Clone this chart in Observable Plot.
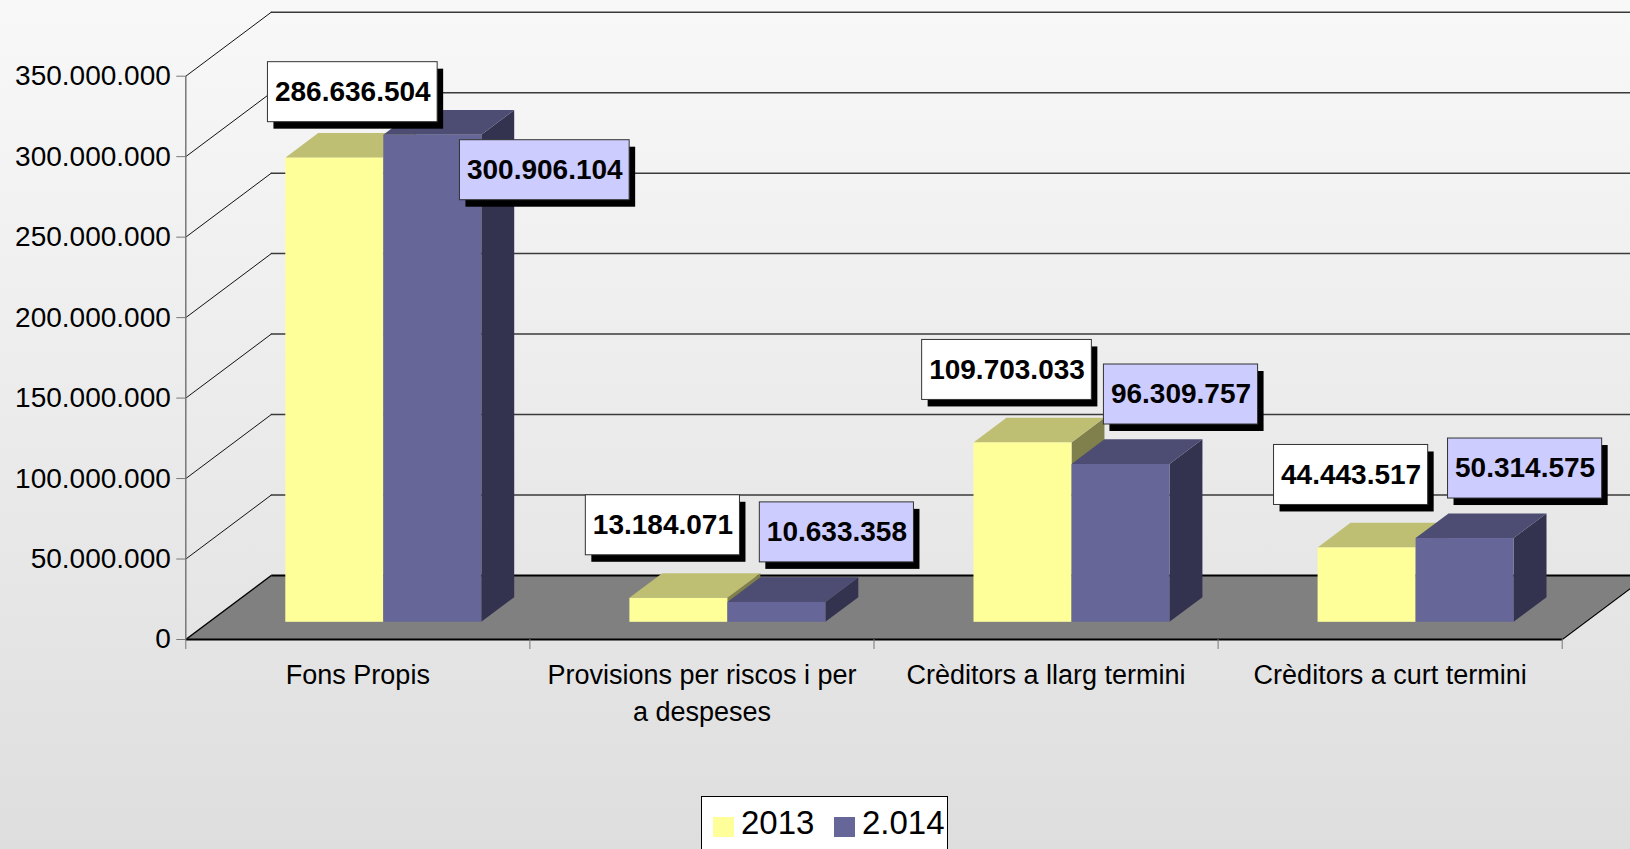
<!DOCTYPE html>
<html>
<head>
<meta charset="utf-8">
<script src="https://cdn.jsdelivr.net/npm/d3@7"></script>
<script src="https://cdn.jsdelivr.net/npm/@observablehq/plot@0.6"></script>
<style>
  html, body { margin: 0; padding: 0; width: 1630px; height: 849px; overflow: hidden;
    background: linear-gradient(#f8f8f8, #dedede); font-family: "Liberation Sans", Arial, sans-serif; }
  #chart { position: absolute; left: 0; top: 0; }
  #legend { position: absolute; left: 701px; top: 796px; width: 247px; height: 90px; background: #fff;
    border: 1.5px solid #000; box-sizing: border-box; }
  #legend .sw { position: absolute; width: 21px; height: 20px; top: 20px; }
  #legend .lb { position: absolute; font-size: 33px; line-height: 1; top: 9px; color: #000; }
</style>
</head>
<body>
<div id="chart"></div>
<div id="legend"></div>
<script>
// ---------- data ----------
const categories = ["Fons Propis", "Provisions per riscos i per a despeses", "Crèditors a llarg termini", "Crèditors a curt termini"];
const series = ["2013", "2.014"];
const values2013 = [286636504, 13184071, 109703033, 44443517];
const values2014 = [300906104, 10633358, 96309757, 50314575];
const yTicks = [0, 50000000, 100000000, 150000000, 200000000, 250000000, 300000000, 350000000];

// ---------- styles / geometry ----------
const faces = [
  {front: "#FFFF99", top: "#BFBF73", side: "#80804D", box: "#FFFFFF"},
  {front: "#666699", top: "#4D4D73", side: "#33334F", box: "#CCCCFF"}
];
const W = 1630, H = 790;
const X0 = 185.3, X4 = 1561.7, Y0 = 639, YTOP = 75.7;
const yMax = 350000000;
const pxX = (X4 - X0) / 4;          // px per category unit
const pxY = (Y0 - YTOP) / yMax;     // px per value unit
const DX = 85.5 / pxX, DY = 64 / pxY;       // depth of the 3D box (data units)
const barOff = 100 / pxX, barW = 98 / pxX;  // bar placement within a category
const baseY = 20 / pxY;                     // value zero of the bars (inside the floor depth)
const sink = 2.8 / pxY;                     // visible bar bottom sits slightly below zero
const bdx = 0.385 * DX, bdy = 0.385 * DY;   // bar depth

const fmt = d3.formatLocale({decimal: ",", thousands: ".", grouping: [3], currency: ["", "€"]}).format(",.0f");

const bars = [];
categories.forEach((c, i) => series.forEach((s, j) => {
  const v = [values2013, values2014][j][i];
  const x1 = i + barOff + j * barW;
  bars.push({c, i, s, j, v, x1, x2: x1 + barW, yb: baseY - sink, yt: baseY + v, id: i + "-" + j});
}));
const topRows = bars.flatMap(b => [
  {id: b.id, j: b.j, y: b.yt, x1: b.x1, x2: b.x2},
  {id: b.id, j: b.j, y: b.yt + bdy, x1: b.x1 + bdx, x2: b.x2 + bdx}
]);
const sideRows = bars.flatMap(b => [
  {id: b.id, j: b.j, x: b.x2, y1: b.yb, y2: b.yt},
  {id: b.id, j: b.j, x: b.x2 + bdx, y1: b.yb + bdy, y2: b.yt + bdy}
]);
const floorRows = [
  {y: 0, x1: 0, x2: 4},
  {y: DY, x1: DX, x2: 4 + DX}
];
const floorEdges = [
  {x1: 0, y1: 0, x2: DX, y2: DY, w: 1.3},
  {x1: DX, y1: DY, x2: 4 + DX, y2: DY, w: 2},
  {x1: 4, y1: 0, x2: 4 + DX, y2: DY, w: 1.3},
  {x1: 0, y1: 0, x2: 4, y2: 0, w: 2.2}
];

// data labels
const ctx = document.createElement("canvas").getContext("2d");
ctx.font = "bold 28px 'Liberation Sans'";
const labelOff = b => b.i === 0 ? (b.j === 0 ? [18, -66] : [112, 35]) : (b.j === 0 ? [-16, -73] : [60, -70]);
const labels = bars.map(b => {
  const [ox, oy] = labelOff(b);
  const text = fmt(b.v);
  const w = ctx.measureText(text).width + 14;
  const cx = (b.x1 + b.x2) / 2 + ox / pxX;
  const cy = b.yt - oy / pxY;
  return {...b, text, cx, cy, bx1: cx - w / 2 / pxX, bx2: cx + w / 2 / pxX, by1: cy - 30 / pxY, by2: cy + 30 / pxY};
});
const catLabel = c => c.replace("riscos i per ", "riscos i per\n");

const marks = [
  // back wall gridlines and side wall lines
  Plot.ruleY(yTicks.slice(1), {y: d => d + DY, x1: () => DX, x2: () => 4 + DX + 1, stroke: "#3a3a3a", strokeWidth: 1.5}),
  Plot.link(yTicks.slice(1), {x1: () => 0, y1: d => d, x2: () => DX, y2: d => d + DY, stroke: "#111", strokeWidth: 1}),
  // floor
  Plot.areaX(floorRows, {y: "y", x1: "x1", x2: "x2", fill: "#808080"}),
  Plot.link(floorEdges, {x1: "x1", y1: "y1", x2: "x2", y2: "y2", stroke: "#000", strokeWidth: d => d.w}),
  // value axis
  Plot.ruleX([0], {y1: () => 0, y2: () => yMax, stroke: "#777", strokeWidth: 1.5}),
  Plot.axisY({ticks: yTicks, tickSize: 9, tickPadding: 6, tickFormat: fmt, stroke: "#777", fill: "#000", fontSize: 28}),
  Plot.axisX({ticks: [0, 1, 2, 3, 4], tickSize: 10, tickFormat: () => "", stroke: "#777"}),
  // bars: sides, tops, fronts
  ...[0, 1].map(j => Plot.areaY(sideRows.filter(r => r.j === j), {x: "x", y1: "y1", y2: "y2", z: "id", fill: faces[j].side})),
  ...[0, 1].map(j => Plot.areaX(topRows.filter(r => r.j === j), {y: "y", x1: "x1", x2: "x2", z: "id", fill: faces[j].top})),
  ...[0, 1].map(j => Plot.rect(bars.filter(b => b.j === j), {x1: "x1", x2: "x2", y1: "yb", y2: "yt", fill: faces[j].front})),
  // data labels
  Plot.rect(labels, {x1: "bx1", x2: "bx2", y1: "by1", y2: "by2", fill: "#000", dx: 6, dy: 7}),
  ...[0, 1].map(j => Plot.rect(labels.filter(l => l.j === j), {x1: "bx1", x2: "bx2", y1: "by1", y2: "by2", fill: faces[j].box, stroke: "#333", strokeWidth: 1})),
  Plot.text(labels, {x: "cx", y: "cy", text: "text", fontWeight: "bold", fontSize: 28, fill: "#000"}),
  // category labels
  Plot.text(categories, {x: (d, i) => i + 0.5, y: () => 0, text: catLabel, lineAnchor: "top", dy: 18, lineHeight: 1.37, fontSize: 27, fill: "#000"})
];

const chart = Plot.plot({
  width: W, height: H,
  marginLeft: X0, marginRight: W - X4, marginTop: YTOP, marginBottom: H - Y0,
  x: {domain: [0, 4]},
  y: {domain: [0, yMax]},
  style: {background: "transparent", fontFamily: "'Liberation Sans', Arial, sans-serif", fontSize: "27px", color: "#000", overflow: "visible"},
  marks
});
document.getElementById("chart").appendChild(chart);

// legend
const legend = document.getElementById("legend");
const legendPos = [{sw: 11, lb: 39}, {sw: 132, lb: 160}];
series.forEach((s, j) => {
  const sw = document.createElement("div");
  sw.className = "sw"; sw.style.left = legendPos[j].sw + "px"; sw.style.background = faces[j].front;
  const lb = document.createElement("div");
  lb.className = "lb"; lb.style.left = legendPos[j].lb + "px"; lb.textContent = s;
  legend.appendChild(sw); legend.appendChild(lb);
});
</script>
</body>
</html>
